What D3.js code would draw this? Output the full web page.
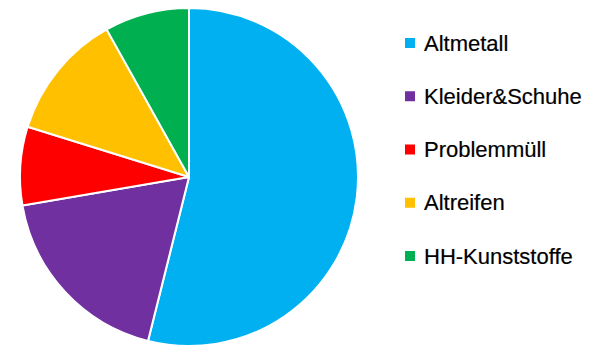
<!DOCTYPE html>
<html><head><meta charset="utf-8">
<script src="https://cdn.jsdelivr.net/npm/d3@7"></script>
<style>body{margin:0;background:#fff}svg{display:block}</style>
</head><body>
<script>
const categories = ["Altmetall","Kleider&Schuhe","Problemmüll","Altreifen","HH-Kunststoffe"];
const values = [53.9, 18.4, 7.5, 12.1, 8.1];
const colors = ["#00B0F0","#7030A0","#FF0000","#FFC000","#00B050"];

const W = 590, H = 346;
const svg = d3.select("body").append("svg").attr("width", W).attr("height", H);
const cx = 189, cy = 177, r = 169;
const pie = d3.pie().sort(null).value(d => d.v);
const data = categories.map((c,i)=>({c, v: values[i], col: colors[i]}));
const arc = d3.arc().innerRadius(0).outerRadius(r);
svg.append("g").attr("transform",`translate(${cx},${cy})`)
  .selectAll("path").data(pie(data)).join("path")
  .attr("d", arc).attr("fill", d=>d.data.col)
  .attr("stroke","#fff").attr("stroke-width",2).attr("stroke-linejoin","round");

const ly = d3.scalePoint().domain(categories).range([43, 256]);
const lg = svg.append("g").selectAll("g").data(data).join("g")
  .attr("transform", d=>`translate(405,${ly(d.c)})`);
lg.append("rect").attr("x",0).attr("y",-5).attr("width",10).attr("height",10).attr("fill",d=>d.col);
lg.append("text").attr("x",19).attr("y",7.5)
  .attr("font-family","Liberation Sans, Arial, sans-serif").attr("font-size",22).attr("fill","#000")
  .style("stroke","#000").style("stroke-width",0.2)
  .text(d=>d.c);
</script>
</body></html>
